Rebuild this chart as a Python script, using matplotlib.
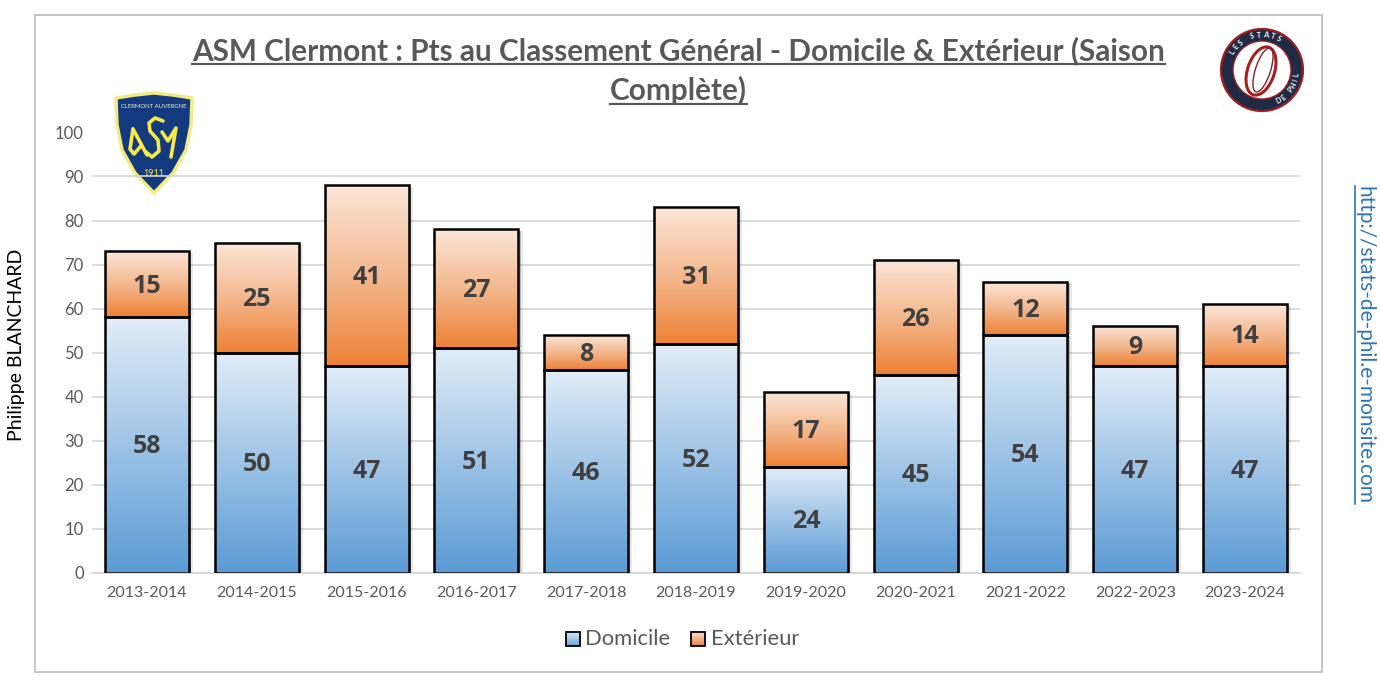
import numpy as np
import matplotlib
matplotlib.use("Agg")
import matplotlib.pyplot as plt
from matplotlib.colors import LinearSegmentedColormap
from matplotlib.patches import Rectangle, Polygon, Circle, Ellipse

plt.rcParams['font.family'] = ['Lato', 'DejaVu Sans']

seasons = ["2013-2014", "2014-2015", "2015-2016", "2016-2017", "2017-2018", "2018-2019",
           "2019-2020", "2020-2021", "2021-2022", "2022-2023", "2023-2024"]
domicile = [58, 50, 47, 51, 46, 52, 24, 45, 54, 47, 47]
exterieur = [15, 25, 41, 27, 8, 31, 17, 26, 12, 9, 14]
yticks = [0, 10, 20, 30, 40, 50, 60, 70, 80, 90, 100]

W, H = 1380, 688
GREY = "#595959"

fig = plt.figure(figsize=(W / 100, H / 100), dpi=100, facecolor="white")

# everything outside the plot area is placed in pixels
bg = fig.add_axes([0, 0, 1, 1], zorder=0)
bg.set_xlim(0, W)
bg.set_ylim(H, 0)
bg.axis("off")
bg.add_patch(Rectangle((35, 15), 1287, 657, fc="white", ec="#c4c4c4", lw=1.4))

ax = fig.add_axes([92 / W, (H - 572.5) / H, 1208 / W, 440 / H], zorder=1)
ax.patch.set_alpha(0)
ax.set_xlim(-0.5, len(seasons) - 0.5)
ax.set_ylim(0, 100)
ax.set_yticks(yticks)
ax.set_xticks(range(len(seasons)), seasons)
ax.tick_params(length=0, labelsize=11.5, labelcolor=GREY, pad=10)
ax.tick_params(axis="y", pad=6, labelsize=12)
ax.grid(axis="y", color="#d4d4d4", lw=1.2)
ax.set_axisbelow(True)
for s in ["top", "left", "right"]:
    ax.spines[s].set_visible(False)
ax.spines["bottom"].set_color("#d4d4d4")
ax.spines["bottom"].set_linewidth(1.2)

blue = LinearSegmentedColormap.from_list("blue", ["#e2edf8", "#5b9bd5"])
orange = LinearSegmentedColormap.from_list("orange", ["#fce6d8", "#f3b88f", "#ee8135"])
ramp = np.linspace(0, 1, 256).reshape(-1, 1)


def gradient_bars(x, heights, bottoms, cmap):
    bars = ax.bar(x, heights, width=0.765, bottom=bottoms, fc="none", ec="black", lw=1.8, zorder=4)
    for b in bars:
        # soft shadow to the right of the bar
        for off, alpha in ((0.02, 0.2), (0.038, 0.09)):
            ax.add_patch(Rectangle((b.get_x() + off, b.get_y()), b.get_width(), b.get_height() - 0.3,
                                   fc="#000000", alpha=alpha, ec="none", zorder=2))
        im = ax.imshow(ramp, cmap=cmap, aspect="auto", zorder=3,
                       extent=(b.get_x(), b.get_x() + b.get_width(), b.get_y(), b.get_y() + b.get_height()))
        im.set_clip_path(Rectangle((b.get_x(), b.get_y()), b.get_width(), b.get_height(), transform=ax.transData))
    return bars


x = np.arange(len(seasons))
gradient_bars(x, domicile, 0, blue)
gradient_bars(x, exterieur, domicile, orange)
ax.set_xlim(-0.5, len(seasons) - 0.5)
ax.set_ylim(0, 100)

for i in x:
    ax.text(i, domicile[i] / 2 - 0.45, str(domicile[i]), ha="center", va="center", fontsize=18,
            family="Open Sans", fontweight="bold", color="#404040", zorder=5)
    ax.text(i, domicile[i] + exterieur[i] / 2 - 0.45, str(exterieur[i]), ha="center", va="center", fontsize=18,
            family="Open Sans", fontweight="bold", color="#404040", zorder=5)


def underline(t, color, lw, offset):
    # matplotlib has no underline for plain text, so rule it under each line
    fig.canvas.draw()
    r = fig.canvas.get_renderer()
    bb = t.get_window_extent(r)
    if t.get_rotation() == 0:
        bg.plot([bb.x0, bb.x1], [H - bb.y0 + offset] * 2, color=color, lw=lw)
    else:
        bg.plot([bb.x0 - offset] * 2, [H - bb.y0, H - bb.y1], color=color, lw=lw)


for line, yy in (("ASM Clermont : Pts au Classement Général - Domicile & Extérieur (Saison", 51),
                 ("Complète)", 90)):
    t = bg.text(678.5, yy, line, ha="center", va="center", fontsize=21.4, fontweight="bold", color=GREY)
    underline(t, GREY, 1.6, -1)

bg.text(17, 345, "Philippe BLANCHARD", rotation=90, ha="center", va="center", fontsize=14, color="black")
t = bg.text(1364, 345, "http://stats-de-phil.e-monsite.com", rotation=270, ha="center", va="center",
            fontsize=15, color="#2e75b6")
underline(t, "#2e75b6", 1.2, -1)

# legend
for bx, c0, c1, label, tx in ((566, "#dfeaf6", "#6aa3d9", "Domicile", 585), (691, "#fbe3d4", "#ea7f3b", "Extérieur", 711)):
    cm = LinearSegmentedColormap.from_list("k", [c0, c1])
    bg.imshow(ramp, cmap=cm, extent=(bx, bx + 14, 646, 632), aspect="auto", zorder=2)
    bg.add_patch(Rectangle((bx, 632), 14, 14, fc="none", ec="black", lw=1.3, zorder=3))
    bg.text(tx, 639, label, ha="left", va="center", fontsize=15.8, color=GREY)
bg.set_xlim(0, W)
bg.set_ylim(H, 0)

# club badge
shield = [(116, 98), (135, 95), (154, 93), (173, 95), (192, 98), (191, 125), (186, 150),
          (173, 173), (154, 193), (135, 173), (122, 150), (117, 125)]
bg.add_patch(Polygon(shield, closed=True, fc="#13397f", ec="#f2ec80", lw=2.5, joinstyle="round", zorder=6))
bg.text(154, 107, "CLERMONT AUVERGNE", ha="center", va="center", fontsize=4.3, color="#f2f2c0", zorder=7)
letters = [
    [(133, 129), (147, 155)],
    [(133, 129), (130, 149), (134, 154), (141, 146)],
    [(163, 121), (155, 118), (149, 123), (150, 131), (158, 140), (159, 151), (152, 157), (146, 152)],
    [(162, 132), (168, 141), (176, 128), (171, 157)],
]
for pts in letters:
    bg.plot([p[0] for p in pts], [p[1] for p in pts], color="#f6e94a", lw=2.6, zorder=7,
            solid_joinstyle="round", solid_capstyle="round")
bg.text(154, 173, "1911", ha="center", va="center", fontsize=6.5, color="#f6e94a", zorder=7)
bg.set_xlim(0, W)
bg.set_ylim(H, 0)

# site logo
cx, cy = 1262, 70
bg.add_patch(Circle((cx, cy), 41, fc="#1f2a44", ec="#9e1f24", lw=1.6, zorder=6))
bg.add_patch(Circle((cx, cy), 29, fc="white", ec="#9e1f24", lw=1.0, zorder=7))
bg.add_patch(Ellipse((cx - 1, cy + 1), 27, 50, angle=18, fc="white", ec="#a5201f", lw=2.2, zorder=8))
bg.add_patch(Ellipse((cx + 1, cy), 15, 46, angle=18, fc="none", ec="#7d2528", lw=1.0, zorder=8))
for ch, ang in zip("LES STATS", np.linspace(-150, -62, 9)):
    a = np.radians(ang)
    bg.text(cx + 35 * np.cos(a), cy + 35 * np.sin(a), ch, rotation=-ang - 90, ha="center", va="center",
            fontsize=5.2, color="white", fontweight="bold", zorder=9, rotation_mode="anchor")
for ch, ang in zip("DE PHIL", np.linspace(62, 8, 7)):
    a = np.radians(ang)
    bg.text(cx + 35 * np.cos(a), cy + 35 * np.sin(a), ch, rotation=90 - ang, ha="center", va="center",
            fontsize=5.2, color="white", fontweight="bold", zorder=9, rotation_mode="anchor")

fig.savefig("out.png", dpi=100)
